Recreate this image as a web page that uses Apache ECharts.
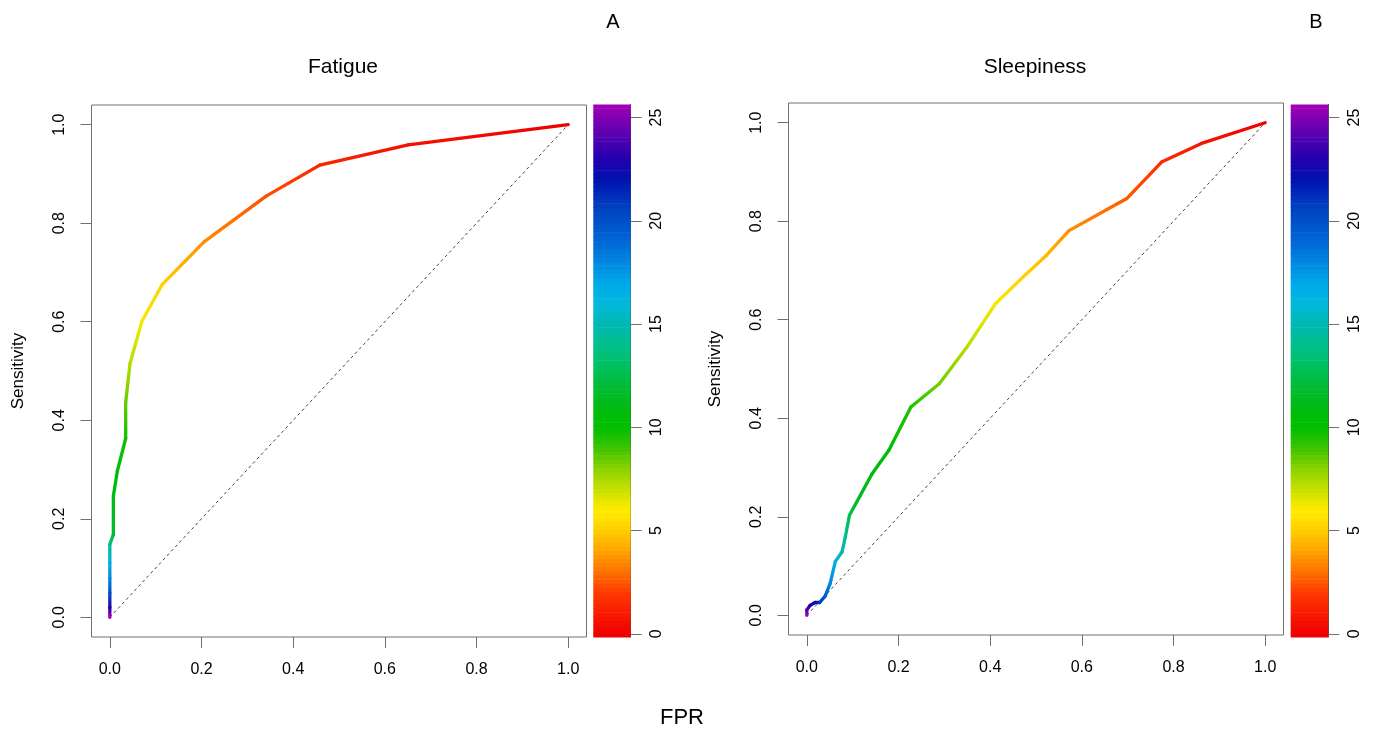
<!DOCTYPE html>
<html>
<head>
<meta charset="utf-8">
<script src="https://cdn.jsdelivr.net/npm/echarts@6/dist/echarts.min.js"></script>
<style>
html,body{margin:0;padding:0;background:#fff;}
#chart{width:1378px;height:730px;}
</style>
</head>
<body>
<div id="chart"></div>
<script>
// ---------------- data ----------------
const fatigueFPR    = [0, 0, 0, 0, 0, 0, 0.0077, 0.0077, 0.0164, 0.0346, 0.0346, 0.044, 0.070, 0.1146, 0.2055, 0.341, 0.458, 0.651, 1.0];
const fatigueTPR    = [0, 0.02, 0.05, 0.08, 0.11, 0.148, 0.168, 0.246, 0.297, 0.363, 0.436, 0.515, 0.601, 0.676, 0.762, 0.855, 0.918, 0.959, 1.0];
const fatigueCutoff = [25.6, 23, 20, 18, 16.5, 14, 12, 11, 10.5, 9.8, 8.5, 7.3, 6.2, 5.2, 3.6, 2.4, 1.3, 0.6, 0];

const sleepFPR    = [0, 0, 0.007, 0.018, 0.028, 0.040, 0.051, 0.062, 0.077, 0.084, 0.093, 0.117, 0.142, 0.179, 0.227, 0.289, 0.349, 0.411, 0.472, 0.523, 0.572, 0.698, 0.774, 0.861, 1.0];
const sleepTPR    = [0, 0.011, 0.020, 0.026, 0.026, 0.039, 0.065, 0.109, 0.129, 0.159, 0.203, 0.244, 0.287, 0.335, 0.423, 0.470, 0.544, 0.632, 0.687, 0.731, 0.781, 0.846, 0.920, 0.958, 1.0];
const sleepCutoff = [25.6, 24, 23, 22, 21, 19.5, 18, 16.5, 15, 14, 12.5, 11.5, 11, 10.5, 9.5, 8.3, 7.2, 6.2, 5.2, 4.6, 3.6, 2.6, 1.6, 0.8, 0];

const axisTicks = [0, 0.2, 0.4, 0.6, 0.8, 1.0];
const colorbarTicks = [0, 5, 10, 15, 20, 25];
const panelTitles = ['Fatigue', 'Sleepiness'];
const panelLetters = ['A', 'B'];
const xTitle = 'FPR';
const yTitle = 'Sensitivity';

// colour scale of the cutoff (colour key)
const colorStopValues = [0, 1, 2, 3, 4, 5, 6, 7, 8, 9, 10, 11, 12, 13, 14, 15, 16, 17, 18, 19, 20, 21, 22, 23, 24, 25, 25.7];
const colorStopColors = ['#ee0000', '#f81a00', '#ff3a00', '#ff7000', '#ffa200', '#ffcc00', '#ffec00', '#c8e000', '#8cd200', '#40c400', '#00bf00', '#00bb10', '#00bb35', '#00c060', '#00c08c', '#00b8b0', '#00b8dc', '#00a8e8', '#0088e0', '#0068d6', '#0050c8', '#0036bc', '#0012ae', '#2200ae', '#5000b0', '#8000b2', '#a800b8'];

const CB_MIN = -0.15, CB_MAX = 25.63;
const FONT = 'Liberation Sans, Arial, sans-serif';

function hexToRgb(h){ return [parseInt(h.substr(1,2),16), parseInt(h.substr(3,2),16), parseInt(h.substr(5,2),16)]; }
function colorAt(v){
  if (v <= colorStopValues[0]) return colorStopColors[0];
  const n = colorStopValues.length;
  if (v >= colorStopValues[n-1]) return colorStopColors[n-1];
  for (let i = 0; i < n-1; i++){
    const a = colorStopValues[i], b = colorStopValues[i+1];
    if (v >= a && v <= b){
      const t = (v - a) / (b - a);
      const c1 = hexToRgb(colorStopColors[i]), c2 = hexToRgb(colorStopColors[i+1]);
      const c = c1.map((x, k) => Math.round(x + (c2[k] - x) * t));
      return 'rgb(' + c.join(',') + ')';
    }
  }
  return colorStopColors[n-1];
}

function segments(fpr, tpr, cut){
  const out = [];
  for (let i = 0; i < fpr.length - 1; i++) out.push([fpr[i], tpr[i], fpr[i+1], tpr[i+1], cut[i], cut[i+1]]);
  return out;
}
function bands(){
  const out = []; const step = 0.2;
  for (let v = CB_MIN; v < CB_MAX - 1e-9; v += step) out.push([v, Math.min(v + step, CB_MAX)]);
  return out;
}

const chart = echarts.init(document.getElementById('chart'), null, {renderer: 'canvas'});

const grids = [
  {left: 91.5, top: 105, width: 495, height: 532},
  {left: 788.5, top: 103, width: 495, height: 532},
  {left: 593.3, top: 104.5, width: 37.4, height: 532.5},
  {left: 1290.7, top: 104.5, width: 37.6, height: 532.5}
].map(g => Object.assign({show: g.width > 100, borderColor: '#707070', borderWidth: 1, backgroundColor: 'transparent'}, g));

const tickStyle = {color: '#707070', width: 1};

function mainX(gi){
  return {type: 'value', gridIndex: gi, min: -0.04, max: 1.04,
    axisLine: {show: false, onZero: false}, splitLine: {show: false},
    axisTick: {show: true, inside: false, length: 11, lineStyle: tickStyle, customValues: axisTicks},
    axisLabel: {customValues: axisTicks, formatter: v => v.toFixed(1), fontSize: 16, color: '#000', fontFamily: FONT, margin: 25}};
}
function mainY(gi){
  return {type: 'value', gridIndex: gi, min: -0.04, max: 1.04,
    axisLine: {show: false, onZero: false}, splitLine: {show: false},
    axisTick: {show: true, inside: false, length: 11, lineStyle: tickStyle, customValues: axisTicks},
    axisLabel: {customValues: axisTicks, formatter: v => v.toFixed(1), fontSize: 16, color: '#000', fontFamily: FONT, rotate: 90, margin: 24},
    name: yTitle, nameLocation: 'middle', nameRotate: 90, nameGap: 65,
    nameTextStyle: {fontSize: 17, color: '#000', fontFamily: FONT}};
}
function cbX(gi){
  return {type: 'value', gridIndex: gi, min: 0, max: 1, show: false};
}
function cbY(gi){
  return {type: 'value', gridIndex: gi, min: CB_MIN, max: CB_MAX, position: 'right',
    axisLine: {show: true, onZero: false, lineStyle: {color: '#555', width: 1}}, splitLine: {show: false},
    axisTick: {show: true, length: 11, lineStyle: tickStyle, customValues: colorbarTicks},
    axisLabel: {customValues: colorbarTicks, fontSize: 16, color: '#000', fontFamily: FONT, rotate: 90, margin: 18}};
}

function rocSeries(xi, data){
  return {type: 'custom', xAxisIndex: xi, yAxisIndex: xi, data: data, encode: {x: [0, 2], y: [1, 3]}, z: 5,
    renderItem: function(params, api){
      const p1 = api.coord([api.value(0), api.value(1)]);
      const p2 = api.coord([api.value(2), api.value(3)]);
      const c1 = colorAt(api.value(4)), c2 = colorAt(api.value(5));
      let stroke = c1;
      if (Math.abs(p1[0]-p2[0]) + Math.abs(p1[1]-p2[1]) > 0.5){
        stroke = new echarts.graphic.LinearGradient(p1[0], p1[1], p2[0], p2[1], [{offset: 0, color: c1}, {offset: 1, color: c2}], true);
      }
      return {type: 'line', shape: {x1: p1[0], y1: p1[1], x2: p2[0], y2: p2[1]},
        style: {stroke: stroke, lineWidth: 3.3, lineCap: 'round', lineJoin: 'round'}};
    }};
}
function diagSeries(xi){
  return {type: 'line', xAxisIndex: xi, yAxisIndex: xi, data: [[0, 0], [1, 1]], symbol: 'none', silent: true, z: 3,
    lineStyle: {color: '#444', width: 1, type: [3, 3]}};
}
function cbSeries(xi){
  return {type: 'custom', xAxisIndex: xi, yAxisIndex: xi, data: bands(), encode: {y: [0, 1]}, silent: true,
    renderItem: function(params, api){
      const v0 = api.value(0), v1 = api.value(1);
      const pa = api.coord([0, v0]), pb = api.coord([1, v1]);
      const col = colorAt((v0 + v1) / 2);
      return {type: 'rect', shape: {x: pa[0], y: pb[1], width: pb[0] - pa[0], height: pa[1] - pb[1] + 0.6},
        style: {fill: col, stroke: null}};
    }};
}

const textStyle = (text, x, y, size) => ({type: 'text', x: x, y: y,
  style: {text: text, fill: '#000', font: size + 'px ' + FONT, textAlign: 'center', textVerticalAlign: 'middle'}});

const option = {
  backgroundColor: '#fff',
  animation: false,
  grid: grids,
  xAxis: [mainX(0), mainX(1), cbX(2), cbX(3)],
  yAxis: [mainY(0), mainY(1), cbY(2), cbY(3)],
  series: [
    diagSeries(0), rocSeries(0, segments(fatigueFPR, fatigueTPR, fatigueCutoff)),
    diagSeries(1), rocSeries(1, segments(sleepFPR, sleepTPR, sleepCutoff)),
    cbSeries(2), cbSeries(3)
  ],
  graphic: [
    textStyle(panelTitles[0], 343, 67, 21),
    textStyle(panelTitles[1], 1035, 67, 21),
    textStyle(panelLetters[0], 613, 22, 20),
    textStyle(panelLetters[1], 1316, 22, 20),
    textStyle(xTitle, 682, 718, 22)
  ]
};
chart.setOption(option);
</script>
</body>
</html>
